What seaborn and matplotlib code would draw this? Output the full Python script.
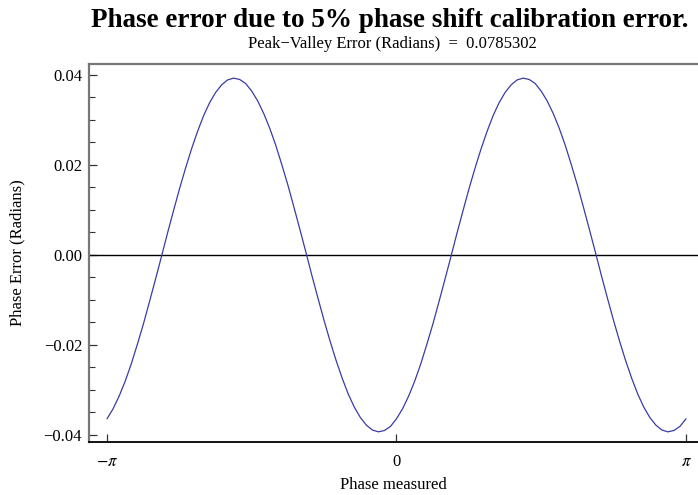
import numpy as np
import pandas as pd
import seaborn as sns
import matplotlib.pyplot as plt
from matplotlib.ticker import MultipleLocator

# ---- data (phase step pi/48, from -pi to pi) ----
phase_steps = list(range(97))  # k, phase = -pi + k*pi/48
phase_error = [
    -0.0364, -0.0342, -0.0314, -0.0281, -0.0243, -0.0200, -0.0155, -0.0106,
    -0.0056, -0.0005, 0.0047, 0.0097, 0.0146, 0.0192, 0.0235, 0.0274,
    0.0309, 0.0338, 0.0361, 0.0378, 0.0389, 0.0393, 0.0390, 0.0381,
    0.0364, 0.0342, 0.0314, 0.0281, 0.0243, 0.0200, 0.0155, 0.0106,
    0.0056, 0.0005, -0.0047, -0.0097, -0.0146, -0.0192, -0.0235, -0.0274,
    -0.0309, -0.0338, -0.0361, -0.0378, -0.0389, -0.0393, -0.0390, -0.0381,
    -0.0364, -0.0342, -0.0314, -0.0281, -0.0243, -0.0200, -0.0155, -0.0106,
    -0.0056, -0.0005, 0.0047, 0.0097, 0.0146, 0.0192, 0.0235, 0.0274,
    0.0309, 0.0338, 0.0361, 0.0378, 0.0389, 0.0393, 0.0390, 0.0381,
    0.0364, 0.0342, 0.0314, 0.0281, 0.0243, 0.0200, 0.0155, 0.0106,
    0.0056, 0.0005, -0.0047, -0.0097, -0.0146, -0.0192, -0.0235, -0.0274,
    -0.0309, -0.0338, -0.0361, -0.0378, -0.0389, -0.0393, -0.0390, -0.0381,
    -0.0364,
]
xtick_values = [-np.pi, 0, np.pi]
xtick_labels = [r"$-\pi$", "0", r"$\pi$"]
ytick_values = [-0.04, -0.02, 0.0, 0.02, 0.04]
peak_valley = 0.0785302

df = pd.DataFrame({
    "phase": [-np.pi + k * np.pi / 48 for k in phase_steps],
    "error": phase_error,
})

sns.set_style("white")
plt.rcParams["font.family"] = ["Liberation Serif", "DejaVu Serif"]
plt.rcParams["mathtext.fontset"] = "stix"
plt.rcParams["axes.unicode_minus"] = True
plt.rcParams["text.color"] = "black"
plt.rcParams["axes.labelcolor"] = "black"
plt.rcParams["xtick.labelcolor"] = "black"
plt.rcParams["ytick.labelcolor"] = "black"

W, H = 698, 495
fig = plt.figure(figsize=(W / 100, H / 100), dpi=100)
ax = fig.add_axes([89 / W, 1 - 442 / H, 1 - 89 / W, (442 - 64) / H])

sns.lineplot(data=df, x="phase", y="error", ax=ax, color="#3b3ba6", linewidth=0.9)
ax.axhline(0, color="black", linewidth=1.0, zorder=1)

ax.set_xlim(-3.337, 3.272)
ax.set_ylim(-0.04156, 0.04244)

# spines in the Mathematica frame style
ax.spines["right"].set_visible(False)
for s in ["top", "left"]:
    ax.spines[s].set_color("#777777")
    ax.spines[s].set_linewidth(1.6)
ax.spines["bottom"].set_color("black")
ax.spines["bottom"].set_linewidth(1.3)

ax.set_xticks(xtick_values)
ax.set_xticklabels(xtick_labels)
ax.set_yticks(ytick_values)
ax.set_yticklabels([f"{v:.2f}".replace("-", "\u2212") for v in ytick_values])
ax.yaxis.set_minor_locator(MultipleLocator(0.005))
ax.tick_params(axis="both", which="major", direction="in", length=6, width=0.9,
               color="#333333", labelcolor="black", labelsize=12, pad=5,
               left=True, bottom=True)
ax.tick_params(axis="y", which="minor", direction="in", length=4, width=0.8,
               color="#333333", left=True)
ax.tick_params(axis="x", which="major", pad=9, top=False)
ax.tick_params(axis="y", right=False)

ax.set_xlabel("Phase measured", fontsize=12, labelpad=5, color="black")
ax.set_ylabel("Phase Error (Radians)", fontsize=12, labelpad=13, color="black")

fig.text(390 / W, 1 - 27 / H, "Phase error due to 5% phase shift calibration error.",
         ha="center", va="baseline", fontsize=19.5, fontweight="bold", color="black")
fig.text(392 / W, 1 - 48 / H, f"Peak\u2212Valley Error (Radians)  =  {peak_valley}",
         ha="center", va="baseline", fontsize=12, color="black")

fig.savefig("out.png", dpi=100)
